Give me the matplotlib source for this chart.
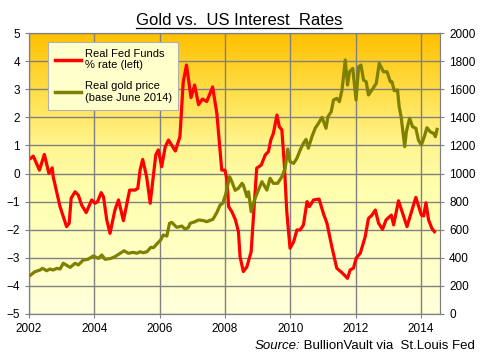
import matplotlib
matplotlib.use('Agg')
import matplotlib.pyplot as plt
import numpy as np
from matplotlib.colors import LinearSegmentedColormap
from matplotlib.lines import Line2D

plt.rcParams['font.family'] = ['Liberation Sans', 'DejaVu Sans']

# Real Fed Funds rate (% , left axis), decimal years
fed_year = [2002.05, 2002.13, 2002.32, 2002.47, 2002.61, 2002.71, 2002.74, 2002.95, 2003.15, 2003.23,
            2003.29, 2003.41, 2003.51, 2003.61, 2003.75, 2003.92, 2004.02, 2004.10, 2004.21, 2004.28,
            2004.38, 2004.48, 2004.63, 2004.74, 2004.89, 2005.08, 2005.25, 2005.33, 2005.40, 2005.48,
            2005.60, 2005.71, 2005.88, 2005.96, 2006.06, 2006.17, 2006.27, 2006.48, 2006.62, 2006.72,
            2006.82, 2006.96, 2007.07, 2007.19, 2007.31, 2007.44, 2007.62, 2007.75, 2007.82, 2007.90,
            2008.00, 2008.06, 2008.11, 2008.21, 2008.32, 2008.41, 2008.46, 2008.56, 2008.67, 2008.80,
            2008.87, 2008.97, 2009.11, 2009.23, 2009.33, 2009.40, 2009.48, 2009.59, 2009.66, 2009.74,
            2009.82, 2009.89, 2009.99, 2010.10, 2010.20, 2010.30, 2010.40, 2010.51, 2010.58, 2010.71,
            2010.88, 2011.01, 2011.12, 2011.27, 2011.42, 2011.58, 2011.75, 2011.83, 2011.93, 2012.02,
            2012.14, 2012.29, 2012.39, 2012.50, 2012.60, 2012.70, 2012.82, 2012.93, 2013.09, 2013.16,
            2013.31, 2013.57, 2013.84, 2014.01, 2014.08, 2014.15, 2014.23, 2014.33, 2014.41]
fed_rate = [0.54, 0.62, 0.12, 0.68, 0.0, 0.2, -0.11, -1.18, -1.89, -1.77,
            -0.88, -0.65, -0.77, -1.12, -1.39, -0.94, -1.06, -1.0, -0.68, -0.83,
            -1.65, -2.13, -1.3, -0.94, -1.68, -0.59, -0.59, -0.53, 0.12, 0.5,
            -0.11, -1.06, 0.66, 0.84, 0.24, 0.95, 1.19, 0.8, 1.31, 3.25,
            3.86, 2.7, 3.15, 2.45, 2.65, 2.56, 3.08, 2.14, 1.19, 0.12,
            0.12, -0.23, -1.18, -1.36, -1.65, -2.07, -2.96, -3.49, -3.32, -2.78,
            -1.54, 0.19, 0.30, 0.66, 0.78, 1.19, 1.43, 2.08, 1.67, 1.55,
            0.24, -1.36, -2.66, -2.43, -2.01, -2.01, -1.83, -1.0, -1.18, -0.94,
            -0.91, -1.42, -1.77, -2.61, -3.37, -3.53, -3.73, -3.43, -3.37, -3.0,
            -2.84, -2.25, -1.6, -1.48, -1.30, -1.77, -1.99, -1.65, -1.48, -1.83,
            -0.97, -1.89, -0.85, -1.48, -1.51, -1.04, -1.65, -1.95, -2.07]

# Real gold price (base June 2014, right axis)
gold_year = [2002.05, 2002.18, 2002.34, 2002.41, 2002.54, 2002.64, 2002.74, 2002.85, 2002.95, 2003.05,
             2003.26, 2003.41, 2003.51, 2003.66, 2003.80, 2003.97, 2004.12, 2004.23, 2004.33, 2004.51,
             2004.63, 2004.79, 2004.91, 2005.04, 2005.19, 2005.30, 2005.40, 2005.50, 2005.61, 2005.73,
             2005.81, 2005.91, 2006.03, 2006.11, 2006.22, 2006.30, 2006.37, 2006.52, 2006.68, 2006.78,
             2006.88, 2006.93, 2007.08, 2007.19, 2007.34, 2007.44, 2007.63, 2007.75, 2007.85, 2007.93,
             2008.03, 2008.14, 2008.21, 2008.31, 2008.41, 2008.52, 2008.56, 2008.67, 2008.72, 2008.80,
             2008.90, 2009.02, 2009.13, 2009.28, 2009.38, 2009.48, 2009.61, 2009.74, 2009.84, 2009.92,
             2009.99, 2010.10, 2010.20, 2010.30, 2010.40, 2010.48, 2010.55, 2010.66, 2010.76, 2010.86,
             2010.97, 2011.09, 2011.15, 2011.25, 2011.32, 2011.42, 2011.50, 2011.58, 2011.68, 2011.75,
             2011.81, 2011.91, 2012.01, 2012.09, 2012.16, 2012.24, 2012.32, 2012.39, 2012.53, 2012.63,
             2012.72, 2012.85, 2012.96, 2013.06, 2013.11, 2013.18, 2013.28, 2013.33, 2013.39, 2013.50,
             2013.55, 2013.65, 2013.74, 2013.84, 2013.92, 2014.01, 2014.10, 2014.18, 2014.28, 2014.38,
             2014.44, 2014.49]
gold_price = [277, 301, 313, 325, 308, 320, 313, 325, 320, 361,
              332, 361, 349, 384, 389, 413, 396, 420, 389, 396,
              408, 432, 450, 432, 439, 432, 443, 436, 443, 475,
              472, 498, 527, 562, 555, 645, 652, 617, 626, 603,
              617, 645, 657, 669, 665, 657, 674, 722, 776, 788,
              859, 977, 942, 880, 895, 930, 918, 835, 870, 728,
              811, 882, 942, 882, 966, 930, 930, 977, 1037, 1174,
              1084, 1072, 1108, 1167, 1215, 1243, 1180, 1262, 1322, 1357,
              1400, 1322, 1404, 1440, 1523, 1535, 1511, 1594, 1808, 1630,
              1724, 1748, 1523, 1760, 1772, 1665, 1653, 1559, 1606, 1642,
              1784, 1724, 1724, 1653, 1653, 1589, 1594, 1475, 1404, 1191,
              1297, 1393, 1333, 1322, 1238, 1203, 1262, 1326, 1297, 1286,
              1262, 1314]

x_ticks = [2002, 2004, 2006, 2008, 2010, 2012, 2014]
x_min, x_max = 2002, 2014.58

fig = plt.figure(figsize=(4.8, 3.54), dpi=100)
ax = fig.add_axes([29/480, 40/354, 411/480, 281/354])

# background gradient, orange at top to pale yellow at bottom
cmap = LinearSegmentedColormap.from_list(
    'bg', [(0.0, '#FFFFDC'), (0.45, '#FFFFAC'), (0.6, '#FFF590'),
           (0.78, '#FFE04C'), (1.0, '#FFC000')])
grad = np.linspace(0, 1, 256).reshape(-1, 1)
ax.imshow(grad, cmap=cmap, origin='lower', aspect='auto',
          extent=[x_min, x_max, -5, 5], zorder=0)

ax.set_xlim(x_min, x_max)
ax.set_ylim(-5, 5)
ax.set_xticks(x_ticks)
ax.set_yticks(range(-5, 6))
ax.grid(True, color='#808080', linewidth=1.0, zorder=1)
ax.set_axisbelow(False)
for s in ax.spines.values():
    s.set_color('#808080')
ax.tick_params(colors='#808080', labelcolor='black', labelsize=8.5, length=3, direction='out')

l1, = ax.plot(fed_year, fed_rate, color='#FF0000', linewidth=2.3, zorder=3)

ax2 = ax.twinx()
ax2.set_ylim(0, 2000)
ax2.set_yticks(range(0, 2001, 200))
ax2.tick_params(colors='#808080', labelcolor='black', labelsize=8.5, length=3, direction='out')
for s in ax2.spines.values():
    s.set_color('#808080')
l2, = ax2.plot(gold_year, gold_price, color='#808000', linewidth=2.3, zorder=3)

leg = ax2.legend([l1, l2], ['Real Fed Funds\n% rate (left)', 'Real gold price\n(base June 2014)'],
                 loc='upper left', bbox_to_anchor=(0.046, 0.968), borderaxespad=0,
                 fontsize=8, fancybox=False, framealpha=1, facecolor='#FFFFCC',
                 edgecolor='#B0B0B0', handlelength=2.4, handletextpad=0.3,
                 labelspacing=1.0, borderpad=0.6)
leg.get_frame().set_linewidth(0.8)
for ln in leg.get_lines():
    ln.set_linewidth(2.5)

# title with underline
title = fig.text(239/480, 1 - 25/354, 'Gold vs.  US Interest  Rates', ha='center', va='baseline',
                 fontsize=12)
fig.canvas.draw()
r = fig.canvas.get_renderer()
bb = title.get_window_extent(r).transformed(fig.transFigure.inverted())
uy = 1 - 27.5/354
fig.add_artist(Line2D([bb.x0, bb.x1], [uy, uy], transform=fig.transFigure, color='black', linewidth=0.9))

# source line with italic prefix
src = fig.text(475/480, 1 - 349/354, ' BullionVault via  St.Louis Fed', ha='right', va='baseline',
               fontsize=9.5)
fig.canvas.draw()
sb = src.get_window_extent(r).transformed(fig.transFigure.inverted())
fig.text(sb.x0, 1 - 349/354, 'Source:', ha='right', va='baseline', fontsize=9.5, style='italic')

fig.savefig('out.png', dpi=100)
